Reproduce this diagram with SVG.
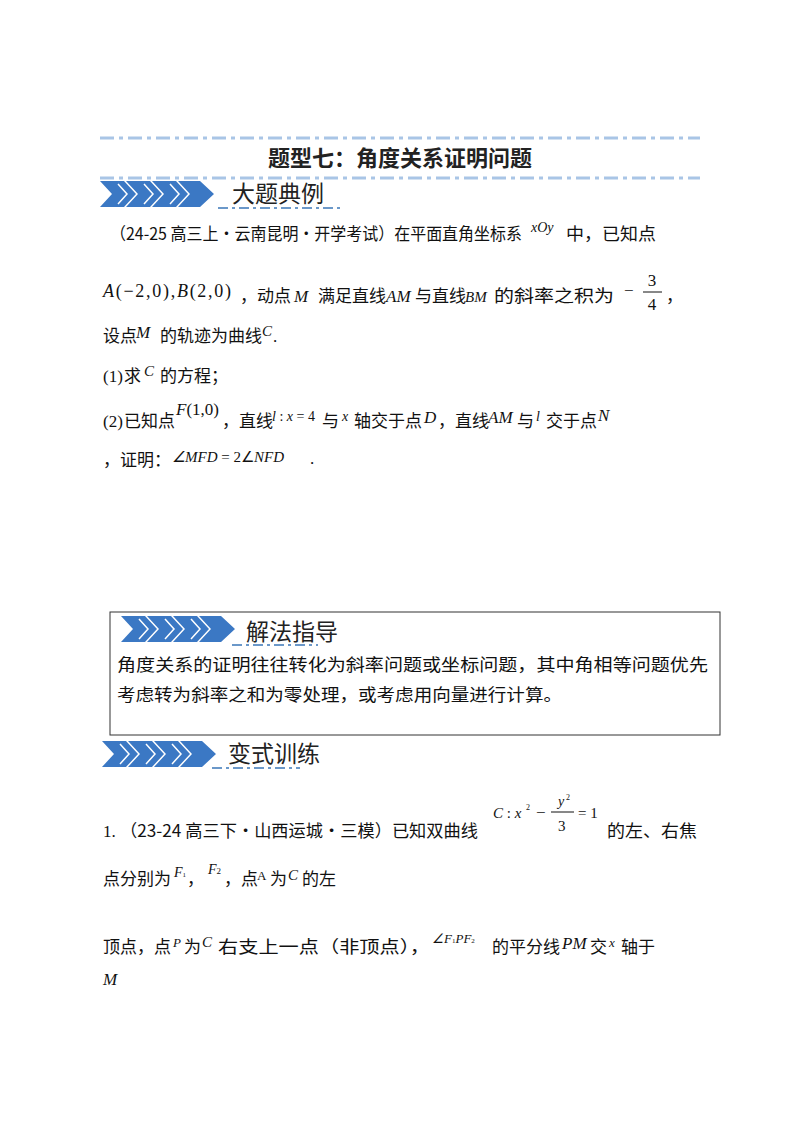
<svg xmlns="http://www.w3.org/2000/svg" width="800" height="1134" viewBox="0 0 800 1134">
<style>
.t{font-family:"Noto Sans CJK SC","Noto Sans",sans-serif;font-size:17px;fill:#111}
.m{font-family:"Liberation Serif",serif;font-style:italic;font-size:17px;fill:#111}
.n{font-family:"Liberation Serif",serif;font-size:17px;fill:#111}
.h{font-family:"Noto Sans CJK SC",sans-serif;font-size:23px;fill:#222}
.dash{stroke:#a9c5e6;stroke-width:3;stroke-dasharray:14 5 4 5}
.ud{stroke:#6b98c9;stroke-width:2;stroke-dasharray:10 4 3 4}
.chev{fill:#3b78c4}
.cl{fill:none;stroke:#fff;stroke-width:1.5}
</style>
<defs>
<g id="banner">
<polygon class="chev" points="0,0 24,0 36,13 24,26 0,26 12,13"/>
<polygon class="chev" points="26,0 50,0 62,13 50,26 26,26 38,13"/>
<polygon class="chev" points="52,0 76,0 88,13 76,26 52,26 64,13"/>
<polygon class="chev" points="78,0 100,0 114,13 100,26 78,26 90,13"/>
<polyline class="cl" points="18,3 27,13 18,23"/>
<polyline class="cl" points="44,3 53,13 44,23"/>
<polyline class="cl" points="70,3 79,13 70,23"/>
</g>
</defs>
<rect width="800" height="1134" fill="#fff"/>
<g id="title">
<line class="dash" x1="100" y1="138" x2="700" y2="138"/>
<text x="400" y="166" text-anchor="middle" class="h" style="font-size:22px;font-weight:bold">题型七：角度关系证明问题</text>
<line class="dash" x1="100" y1="178" x2="700" y2="178"/>
</g>
<g id="banner-1">
<use href="#banner" x="100" y="181"/>
<text x="232" y="202" class="h">大题典例</text>
<line class="ud" x1="218" y1="208" x2="342" y2="208"/>
</g>
<g id="example">
<text x="110" y="240" class="t" textLength="412" lengthAdjust="spacingAndGlyphs">（24-25 高三上·云南昆明·开学考试）在平面直角坐标系</text>
<text x="531" y="232" class="m" style="font-size:14px">xOy</text>
<text x="566" y="240" class="t" textLength="90" lengthAdjust="spacingAndGlyphs">中，已知点</text>
<text x="103" y="297" class="m" textLength="128" style="font-size:18px">A<tspan style="font-style:normal">(−2,0),</tspan>B<tspan style="font-style:normal">(2,0)</tspan></text>
<text x="240" y="302" class="t">，动点</text>
<text x="294" y="302" class="m">M</text>
<text x="318" y="302" class="t">满足直线</text>
<text x="386" y="302" class="m">AM</text>
<text x="415" y="302" class="t">与直线</text>
<text x="465" y="302" class="m" style="font-size:15px">BM</text>
<text x="494" y="302" class="t" textLength="120" lengthAdjust="spacingAndGlyphs">的斜率之积为</text>
<text x="624" y="296" class="n">−</text>
<text x="652" y="286" class="n" text-anchor="middle">3</text>
<line x1="643" y1="292" x2="662" y2="292" stroke="#111" stroke-width="1"/>
<text x="652" y="310" class="n" text-anchor="middle">4</text>
<text x="666" y="302" class="t">，</text>
<text x="103" y="342" class="t">设点</text>
<text x="136" y="338" class="m">M</text>
<text x="160" y="342" class="t">的轨迹为曲线</text>
<text x="262" y="336" class="m" style="font-size:15px">C</text>
<text x="273" y="342" class="n">.</text>
<text x="103" y="382" class="n">(1)</text>
<text x="124" y="382" class="t">求</text>
<text x="144" y="376" class="m" style="font-size:15px">C</text>
<text x="160" y="382" class="t">的方程；</text>
<text x="103" y="427" class="n">(2)</text>
<text x="124" y="427" class="t">已知点</text>
<text x="176" y="415" class="m">F<tspan style="font-style:normal">(1,0)</tspan></text>
<text x="222" y="427" class="t">，直线</text>
<text x="272" y="421" class="m" style="font-size:14px">l<tspan style="font-style:normal"> : </tspan>x<tspan style="font-style:normal"> = 4</tspan></text>
<text x="322" y="427" class="t">与</text>
<text x="342" y="421" class="m" style="font-size:14px">x</text>
<text x="354" y="427" class="t">轴交于点</text>
<text x="424" y="423" class="m">D</text>
<text x="438" y="427" class="t">，直线</text>
<text x="488" y="423" class="m">AM</text>
<text x="517" y="427" class="t">与</text>
<text x="536" y="421" class="m" style="font-size:14px">l</text>
<text x="546" y="427" class="t">交于点</text>
<text x="598" y="421" class="m">N</text>
<text x="103" y="466" class="t">，证明：</text>
<text x="172" y="462" class="m" style="font-size:15px">∠MFD<tspan style="font-style:normal"> = 2∠</tspan>NFD</text>
<text x="310" y="464" class="n">.</text>
</g>
<g id="guide">
<rect x="110" y="612" width="610" height="123" fill="none" stroke="#333" stroke-width="1"/>
<use href="#banner" x="121" y="616"/>
<text x="246" y="640" class="h">解法指导</text>
<line class="ud" x1="232" y1="645" x2="318" y2="645"/>
<text x="117" y="671" class="t" textLength="591" lengthAdjust="spacingAndGlyphs">角度关系的证明往往转化为斜率问题或坐标问题，其中角相等问题优先</text>
<text x="117" y="701" class="t" textLength="445" lengthAdjust="spacingAndGlyphs">考虑转为斜率之和为零处理，或考虑用向量进行计算。</text>
</g>
<g id="banner-3">
<use href="#banner" x="102" y="741"/>
<text x="228" y="762" class="h">变式训练</text>
<line class="ud" x1="212" y1="768" x2="300" y2="768"/>
</g>
<g id="exercise">
<text x="103" y="837" class="n">1.</text>
<text x="120" y="837" class="t" textLength="358" lengthAdjust="spacingAndGlyphs">（23-24 高三下·山西运城·三模）已知双曲线</text>
<text x="493" y="818" class="m" style="font-size:15px">C<tspan style="font-style:normal"> : </tspan>x</text>
<text x="526" y="810" class="n" style="font-size:8px">2</text>
<text x="536" y="818" class="n">−</text>
<text x="558" y="806" class="m" style="font-size:14px">y</text>
<text x="566" y="800" class="n" style="font-size:8px">2</text>
<line x1="551" y1="812" x2="574" y2="812" stroke="#111" stroke-width="1"/>
<text x="558" y="831" class="n" style="font-size:15px">3</text>
<text x="578" y="818" class="n" style="font-size:15px">= 1</text>
<text x="607" y="837" class="t" textLength="90" lengthAdjust="spacingAndGlyphs">的左、右焦</text>
<text x="103" y="885" class="t">点分别为</text>
<text x="174" y="877" class="m" style="font-size:14px">F<tspan style="font-style:normal;font-size:7px">1</tspan></text>
<text x="187" y="885" class="t">，</text>
<text x="208" y="874" class="m" style="font-size:14px">F<tspan style="font-style:normal;font-size:9px">2</tspan></text>
<text x="224" y="885" class="t">，点</text>
<text x="257" y="880" class="n" style="font-size:13px">A</text>
<text x="270" y="885" class="t">为</text>
<text x="288" y="880" class="m" style="font-size:15px">C</text>
<text x="302" y="885" class="t">的左</text>
<text x="103" y="953" class="t">顶点，点</text>
<text x="173" y="947" class="m" style="font-size:13px">P</text>
<text x="184" y="953" class="t">为</text>
<text x="202" y="947" class="m" style="font-size:15px">C</text>
<text x="218" y="953" class="t" textLength="212" lengthAdjust="spacingAndGlyphs">右支上一点（非顶点），</text>
<text x="432" y="943" class="m" style="font-size:13px">∠F<tspan style="font-style:normal;font-size:7px">1</tspan>PF<tspan style="font-style:normal;font-size:7px">2</tspan></text>
<text x="492" y="953" class="t" textLength="68" lengthAdjust="spacingAndGlyphs">的平分线</text>
<text x="562" y="949" class="m">PM</text>
<text x="590" y="953" class="t">交</text>
<text x="609" y="947" class="m" style="font-size:13px">x</text>
<text x="621" y="953" class="t">轴于</text>
<text x="103" y="985" class="m">M</text>
</g>
</svg>
